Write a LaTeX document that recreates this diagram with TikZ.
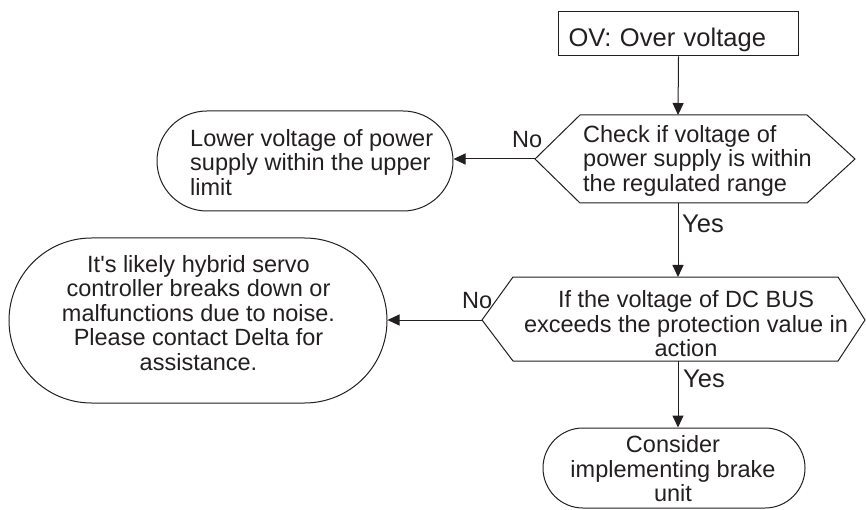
\documentclass[tikz,border=0pt]{standalone}
\usepackage{fontspec}
\setmainfont{Liberation Sans}
\usepackage{tikz}
\usetikzlibrary{arrows.meta}
\definecolor{ink}{HTML}{231F20}
\newcommand{\flowfont}{\fontsize{23.5}{24.5}\selectfont}
\newcommand{\bigflowfont}{\fontsize{25.5}{27}\selectfont}
\tikzset{
  txt/.style={inner sep=0pt, font=\flowfont, text=ink},
  endbox/.style={draw=ink, line width=1pt, rounded corners=#1, inner sep=0pt},
  hexline/.style={draw=ink, line width=1pt, line join=miter},
  flow/.style={draw=ink, line width=1pt, -{Triangle[length=12pt, width=11pt]}}
}

\begin{document}
\begin{tikzpicture}[x=1pt, y=-1pt]
  \useasboundingbox (0,0) rectangle (866,510);
  \node[txt, font=\bigflowfont, draw=ink, line width=1pt, anchor=west, minimum width=240pt,
        text width=220pt, inner xsep=10pt, align=left,
        text height=35pt, text depth=9pt] (ov) at (558,34) {OV: Over voltage};
  % first check
  \coordinate (c1n) at (678,115);
  \coordinate (c1s) at (678,203);
  \coordinate (c1w) at (535,159);
  \coordinate (c1e) at (855,159);
  \draw[hexline] (c1w) -- (580,115) -- (807,115) -- (c1e) -- (807,203) -- (580,203) -- cycle;
  \node[txt, anchor=west, align=left] (c1) at (583,160.5)
    {Check if voltage of\\power supply is within\\the regulated range};
  \node[endbox=50pt, minimum width=296pt, minimum height=100pt] (lo) at (305,161) {};
  \node[txt, anchor=west, align=left] (lotxt) at (190,162.5)
    {Lower voltage of power\\supply within the upper\\limit};
  % second check
  \coordinate (c2n) at (678,277);
  \coordinate (c2s) at (678,361);
  \coordinate (c2w) at (482,320);
  \coordinate (c2e) at (865,320);
  \draw[hexline] (c2w) -- (513,277) -- (838,277) -- (c2e) -- (838,361) -- (513,361) -- cycle;
  \node[txt, align=center] (c2) at (686,324)
    {If the voltage of DC BUS\\exceeds the protection value in\\action};
  \node[endbox=82.5pt, minimum width=378pt, minimum height=165pt] (fl) at (198,320.5) {};
  \node[txt, align=center] (fltxt) at (198.5,313)
    {It\textquotesingle s likely hybrid servo\\controller breaks down or\\malfunctions due to noise.\\Please contact Delta for\\assistance.};
  \node[endbox=40pt, minimum width=262pt, minimum height=80pt] (br) at (674,468) {};
  \node[txt, align=center] (brtxt) at (673,469)
    {Consider\\implementing brake\\unit};
  % answers
  \node[txt, anchor=base west] (no1) at (512,148) {No};
  \node[txt, font=\bigflowfont, anchor=base west] (yes1) at (682,233) {Yes};
  \node[txt, anchor=base west] (no2) at (462,308) {No};
  \node[txt, font=\bigflowfont, anchor=base west] (yes2) at (683,387) {Yes};
  \draw[flow] (ov.south) -- (c1n);
  \draw[flow] (c1w) -- (c1w -| lo.east);
  \draw[flow] (c1s) -- (c2n);
  \draw[flow] (c2w) -- (c2w -| fl.east);
  \draw[flow] (c2s) -- (c2s |- br.north);
\end{tikzpicture}
\end{document}
